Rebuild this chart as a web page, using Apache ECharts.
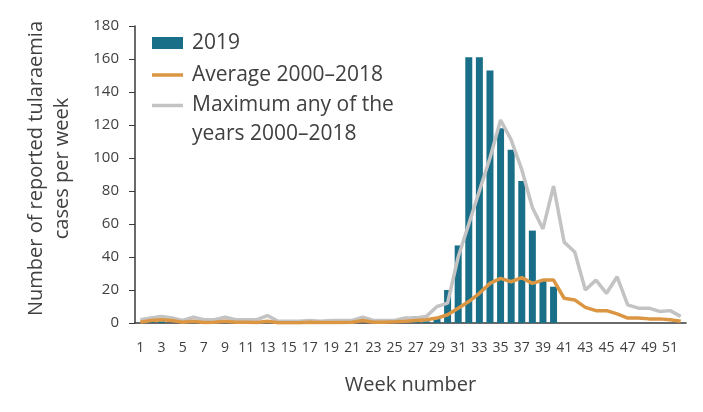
<!DOCTYPE html>
<html>
<head>
<meta charset="utf-8">
<script src="https://cdn.jsdelivr.net/npm/echarts@6/dist/echarts.min.js"></script>
<style>
html,body{margin:0;padding:0;background:#fff;}
#chart{width:703px;height:412px;}
</style>
</head>
<body>
<div id="chart"></div>
<script>
var weeks = ['1','2','3','4','5','6','7','8','9','10','11','12','13','14','15','16','17','18','19','20','21','22','23','24','25','26','27','28','29','30','31','32','33','34','35','36','37','38','39','40','41','42','43','44','45','46','47','48','49','50','51','52'];
var cases2019 = [0,1,1,0,0,0,0,0,0,0,0,0,0,0,0,0,0,0,0,0,0,0,0,0,0,0,4,1,3,20,47,161,161,153,118,105,86,56,26,22,0,0,0,0,0,0,0,0,0,0,0,0];
var average = [0.5,1.5,2,1.5,0.5,1,0.3,0.5,1,0.5,0.5,0.3,1,0.2,0.2,0.2,0.5,0.3,0.3,0.3,0.5,1.5,0.5,0.5,0.7,1,1.5,2,3,5,9,13,18,24,27,25,27.5,24,26,26,15,14,9.5,7.5,7.5,5.5,3,3,2.5,2.5,2,1];
var maximum = [2,3,4,3,1.5,3.5,2,2,3.5,2,2,2,4.5,1,1,1,1.5,1,1.5,1.5,1.5,3.5,1.5,1.5,1.5,3,3,4,10,12,40,60,80,100,123,111,93,70,57,83,49,43,20,26,18,28,11,9,9,7,7.5,4];
var yTicks = [0,20,40,60,80,100,120,140,160,180];
var seriesNames = ['2019','Average 2000–2018','Maximum any of the years 2000–2018'];

var FONT = '"Open Sans", sans-serif';
var TXT = '#404040';
var BAR = '#1a6f88', AVG = '#da9643', MAX = '#c3c3c3';
var LINE_ICON = 'path://M0,0L31,0L31,3.5L0,3.5Z';
var chart = echarts.init(document.getElementById('chart'), null, {renderer:'canvas'});
chart.setOption({
  animation:false,
  backgroundColor:'#ffffff',
  textStyle:{fontFamily:FONT,color:TXT},
  grid:{left:135,right:17,top:26,bottom:89,containLabel:false},
  legend:[{
    orient:'vertical',left:147,top:27,
    itemWidth:31,itemHeight:12,itemGap:10,
    selectedMode:false,
    textStyle:{fontFamily:FONT,fontSize:21,color:TXT,padding:[0,0,0,4],lineHeight:22},
    data:[
      {name:seriesNames[0],icon:'rect',itemStyle:{color:BAR}},
      {name:seriesNames[1],icon:LINE_ICON,itemStyle:{color:AVG,borderWidth:0},lineStyle:{width:0}}
    ]
  },{
    orient:'vertical',left:147,top:57,
    itemWidth:31,itemHeight:12,
    selectedMode:false,
    formatter:function(){return ' \nMaximum any of the\nyears 2000–2018';},
    textStyle:{fontFamily:FONT,fontSize:21,color:TXT,padding:[0,0,0,4],lineHeight:29},
    data:[
      {name:seriesNames[2],icon:LINE_ICON,itemStyle:{color:MAX,borderWidth:0},lineStyle:{width:0}}
    ]
  }],
  xAxis:{
    type:'category',data:weeks,
    axisLine:{lineStyle:{color:'#3a3a3a',width:1.5}},
    axisTick:{show:false},
    axisLabel:{interval:1,fontSize:14,color:TXT,margin:18,fontFamily:FONT},
    name:'Week number',nameLocation:'middle',nameGap:52,
    nameTextStyle:{fontSize:20,color:TXT,fontFamily:FONT}
  },
  yAxis:{
    type:'value',min:0,max:180,interval:20,
    axisLine:{show:true,lineStyle:{color:'#3a3a3a',width:1.5}},
    axisTick:{show:true,length:6,lineStyle:{color:'#3a3a3a'}},
    splitLine:{show:false},
    axisLabel:{fontSize:15,color:TXT,margin:16,fontFamily:FONT,
      formatter:function(v){return yTicks.indexOf(v)>=0?String(v):'';}},
    name:'Number of reported tularaemia\ncases per week',nameLocation:'middle',nameGap:60,
    nameTextStyle:{fontSize:20,color:TXT,lineHeight:26,fontFamily:FONT,align:'center',padding:[0,0,0,12]}
  },
  series:[
    {name:seriesNames[0],type:'bar',data:cases2019,barWidth:7,itemStyle:{color:BAR}},
    {name:seriesNames[2],type:'line',data:maximum,symbol:'none',
      lineStyle:{color:MAX,width:3.5},itemStyle:{color:MAX}},
    {name:seriesNames[1],type:'line',data:average,symbol:'none',
      lineStyle:{color:AVG,width:3.5},itemStyle:{color:AVG}}
  ]
});
</script>
</body>
</html>
